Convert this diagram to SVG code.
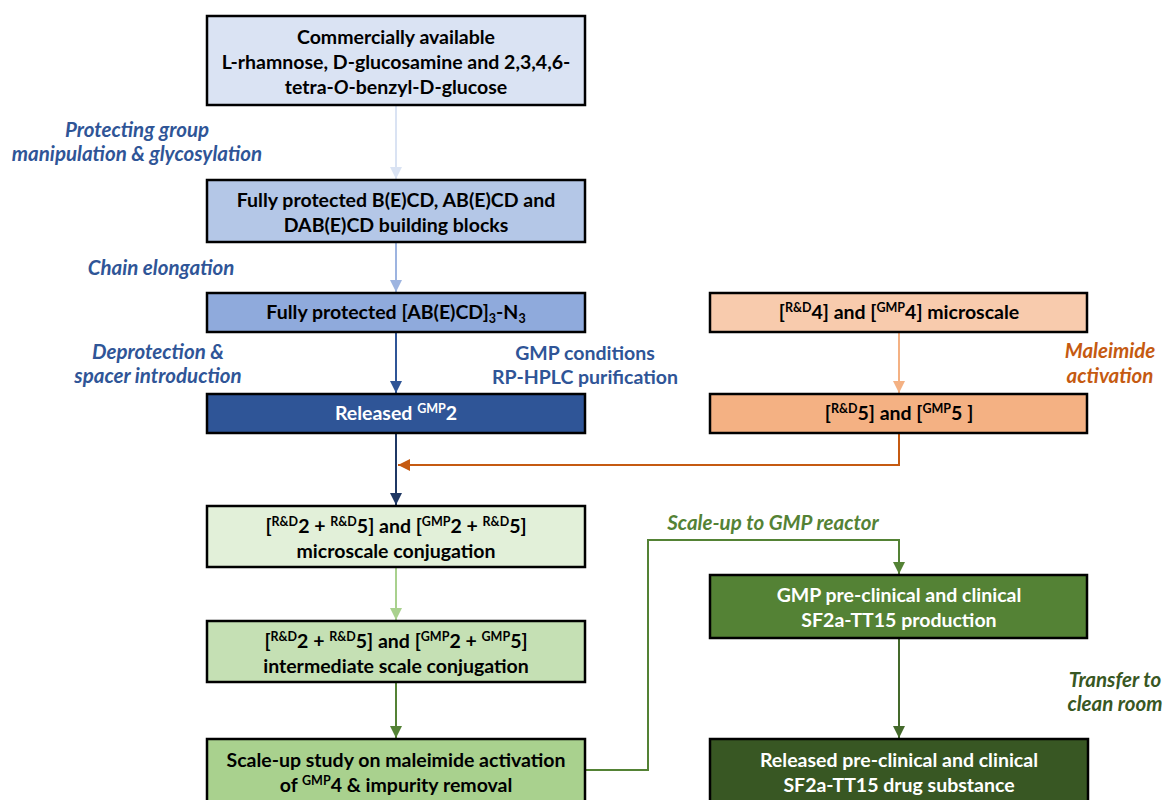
<svg xmlns="http://www.w3.org/2000/svg" width="1164" height="800" viewBox="0 0 1164 800">
<defs>
<style>
.box{stroke:#000;stroke-width:2.5}
.t{font-family:Lato,"Open Sans","Liberation Sans",sans-serif;font-weight:bold;font-size:19.5px;text-anchor:middle;fill:#000}
.w{fill:#fff}
.lab{font-family:Lato,"Open Sans","Liberation Sans",sans-serif;font-weight:bold;font-style:italic;font-size:20.5px;text-anchor:middle}
.sup{font-size:12.5px}
.c{fill:none;stroke-width:2}
</style>
<marker id="a1" viewBox="0 0 10 10" refX="10" refY="5" markerWidth="6" markerHeight="6" orient="auto" markerUnits="strokeWidth"><path d="M0,0 L10,5 L0,10 z" fill="#DAE3F3"/></marker>
<marker id="a2" viewBox="0 0 10 10" refX="10" refY="5" markerWidth="6" markerHeight="6" orient="auto" markerUnits="strokeWidth"><path d="M0,0 L10,5 L0,10 z" fill="#9DB4E0"/></marker>
<marker id="a3" viewBox="0 0 10 10" refX="10" refY="5" markerWidth="6" markerHeight="6" orient="auto" markerUnits="strokeWidth"><path d="M0,0 L10,5 L0,10 z" fill="#2F5597"/></marker>
<marker id="a4" viewBox="0 0 10 10" refX="10" refY="5" markerWidth="6" markerHeight="6" orient="auto" markerUnits="strokeWidth"><path d="M0,0 L10,5 L0,10 z" fill="#1F3864"/></marker>
<marker id="a5" viewBox="0 0 10 10" refX="10" refY="5" markerWidth="6" markerHeight="6" orient="auto" markerUnits="strokeWidth"><path d="M0,0 L10,5 L0,10 z" fill="#F4B183"/></marker>
<marker id="a6" viewBox="0 0 10 10" refX="10" refY="5" markerWidth="6" markerHeight="6" orient="auto" markerUnits="strokeWidth"><path d="M0,0 L10,5 L0,10 z" fill="#C55A11"/></marker>
<marker id="a7" viewBox="0 0 10 10" refX="10" refY="5" markerWidth="6" markerHeight="6" orient="auto" markerUnits="strokeWidth"><path d="M0,0 L10,5 L0,10 z" fill="#A9D18E"/></marker>
<marker id="a8" viewBox="0 0 10 10" refX="10" refY="5" markerWidth="6" markerHeight="6" orient="auto" markerUnits="strokeWidth"><path d="M0,0 L10,5 L0,10 z" fill="#548235"/></marker>
<marker id="a9" viewBox="0 0 10 10" refX="10" refY="5" markerWidth="6" markerHeight="6" orient="auto" markerUnits="strokeWidth"><path d="M0,0 L10,5 L0,10 z" fill="#44692B"/></marker>
</defs>
<rect width="1164" height="800" fill="#fff"/>

<g id="connectors">
<line class="c" x1="396" y1="106" x2="396" y2="179" stroke="#DAE3F3" marker-end="url(#a1)"/>
<line class="c" x1="396" y1="243" x2="396" y2="292" stroke="#9DB4E0" marker-end="url(#a2)"/>
<line class="c" x1="396" y1="333" x2="396" y2="393" stroke="#2F5597" marker-end="url(#a3)"/>
<line class="c" x1="396" y1="434" x2="396" y2="505" stroke="#1F3864" marker-end="url(#a4)"/>
<line class="c" x1="899" y1="333" x2="899" y2="393" stroke="#F4B183" marker-end="url(#a5)"/>
<polyline class="c" points="899,434 899,465 398,465" stroke="#C55A11" marker-end="url(#a6)"/>
<line class="c" x1="396" y1="568" x2="396" y2="620" stroke="#A9D18E" marker-end="url(#a7)"/>
<line class="c" x1="396" y1="683" x2="396" y2="738" stroke="#548235" marker-end="url(#a8)"/>
<polyline class="c" points="586,770 648,770 648,540 899,540 899,574" stroke="#548235" marker-end="url(#a8)"/>
<line class="c" x1="899" y1="639" x2="899" y2="738" stroke="#44692B" marker-end="url(#a9)"/>
</g>

<g id="n1">
<rect class="box" x="207" y="16" width="378" height="89" fill="#DAE3F3"/>
<text class="t" x="396" y="44">Commercially available</text>
<text class="t" x="396" y="69">L-rhamnose, D-glucosamine and 2,3,4,6-</text>
<text class="t" x="396" y="94">tetra-<tspan font-style="italic">O</tspan>-benzyl-D-glucose</text>
</g>
<g id="n2">
<rect class="box" x="207" y="180" width="378" height="62" fill="#B4C7E7"/>
<text class="t" x="396" y="207">Fully protected B(E)CD, AB(E)CD and</text>
<text class="t" x="396" y="232">DAB(E)CD building blocks</text>
</g>
<g id="n3">
<rect class="box" x="207" y="293" width="378" height="39" fill="#8FAADC"/>
<text class="t" x="396" y="319">Fully protected [AB(E)CD]<tspan class="sup" dy="4">3</tspan><tspan dy="-4">-N</tspan><tspan class="sup" dy="4">3</tspan></text>
</g>
<g id="n4">
<rect class="box" x="207" y="394" width="378" height="39" fill="#2F5597"/>
<text class="t w" x="396" y="420">Released <tspan class="sup" dy="-7">GMP</tspan><tspan dy="7">2</tspan></text>
</g>
<g id="n5">
<rect class="box" x="710" y="293" width="377" height="39" fill="#F8CBAD"/>
<text class="t" x="899" y="319">[<tspan class="sup" dy="-7">R&amp;D</tspan><tspan dy="7">4] and [</tspan><tspan class="sup" dy="-7">GMP</tspan><tspan dy="7">4] microscale</tspan></text>
</g>
<g id="n6">
<rect class="box" x="710" y="394" width="377" height="39" fill="#F4B183"/>
<text class="t" x="899" y="420">[<tspan class="sup" dy="-7">R&amp;D</tspan><tspan dy="7">5] and [</tspan><tspan class="sup" dy="-7">GMP</tspan><tspan dy="7">5 ]</tspan></text>
</g>
<g id="n7">
<rect class="box" x="207" y="506" width="378" height="61" fill="#E2F0D9"/>
<text class="t" x="396" y="533">[<tspan class="sup" dy="-7">R&amp;D</tspan><tspan dy="7">2 + </tspan><tspan class="sup" dy="-7">R&amp;D</tspan><tspan dy="7">5] and [</tspan><tspan class="sup" dy="-7">GMP</tspan><tspan dy="7">2 + </tspan><tspan class="sup" dy="-7">R&amp;D</tspan><tspan dy="7">5]</tspan></text>
<text class="t" x="396" y="558">microscale conjugation</text>
</g>
<g id="n8">
<rect class="box" x="207" y="621" width="378" height="61" fill="#C5E0B4"/>
<text class="t" x="396" y="648">[<tspan class="sup" dy="-7">R&amp;D</tspan><tspan dy="7">2 + </tspan><tspan class="sup" dy="-7">R&amp;D</tspan><tspan dy="7">5] and [</tspan><tspan class="sup" dy="-7">GMP</tspan><tspan dy="7">2 + </tspan><tspan class="sup" dy="-7">GMP</tspan><tspan dy="7">5]</tspan></text>
<text class="t" x="396" y="673">intermediate scale conjugation</text>
</g>
<g id="n9">
<rect class="box" x="207" y="739" width="378" height="70" fill="#A9D18E"/>
<text class="t" x="396" y="767">Scale-up study on maleimide activation</text>
<text class="t" x="396" y="792">of <tspan class="sup" dy="-7">GMP</tspan><tspan dy="7">4 &amp; impurity removal</tspan></text>
</g>
<g id="n10">
<rect class="box" x="710" y="575" width="377" height="63" fill="#548235"/>
<text class="t w" x="899" y="602">GMP pre-clinical and clinical</text>
<text class="t w" x="899" y="627">SF2a-TT15 production</text>
</g>
<g id="n11">
<rect class="box" x="710" y="739" width="378" height="70" fill="#385723"/>
<text class="t w" x="899" y="767">Released pre-clinical and clinical</text>
<text class="t w" x="899" y="792">SF2a-TT15 drug substance</text>
</g>

<g id="labels">
<text class="lab" x="137" y="137" fill="#2F5597">Protecting group</text>
<text class="lab" x="137" y="161" fill="#2F5597">manipulation &amp; glycosylation</text>
<text class="lab" x="161" y="275" fill="#2F5597">Chain elongation</text>
<text class="lab" x="158" y="359" fill="#2F5597">Deprotection &amp;</text>
<text class="lab" x="158" y="383" fill="#2F5597">spacer introduction</text>
<text class="t" x="585" y="360" style="fill:#2F5597">GMP conditions</text>
<text class="t" x="585" y="384" style="fill:#2F5597">RP-HPLC purification</text>
<text class="lab" x="1110" y="358" fill="#C55A11">Maleimide</text>
<text class="lab" x="1110" y="383" fill="#C55A11">activation</text>
<text class="lab" x="773" y="530" fill="#548235">Scale-up to GMP reactor</text>
<text class="lab" x="1115" y="687" fill="#385723">Transfer to</text>
<text class="lab" x="1115" y="711" fill="#385723">clean room</text>
</g>
</svg>
